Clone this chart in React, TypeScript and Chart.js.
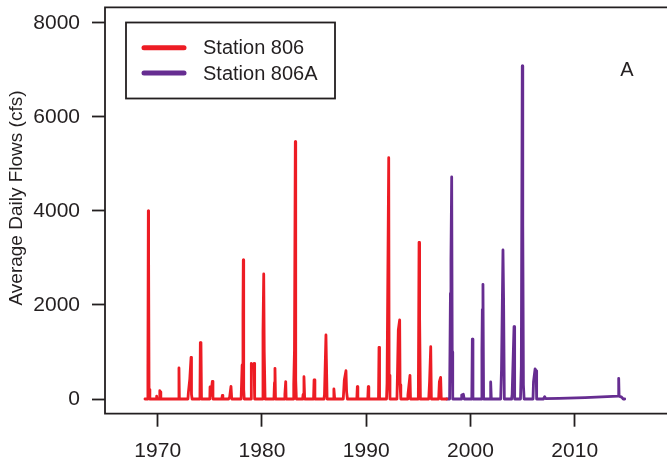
import { useEffect, useRef } from "react";
import { Chart, registerables } from "chart.js";

Chart.register(...registerables);

// ---------- data ----------
const seriesLabels = ["Station 806", "Station 806A"];
const yAxisTitle = "Average Daily Flows (cfs)";
const panelLabel = "A";
const xTickYears = [1970, 1980, 1990, 2000, 2010];
const yTickValues = [0, 2000, 4000, 6000, 8000];

const station806Years = [
  1968.78, 1969.02, 1969.06, 1969.1, 1969.13, 1969.17, 1969.25,
  1969.85, 1969.9, 1969.95,
  1970.15, 1970.2, 1970.25, 1970.3,
  1972.0, 1972.04, 1972.08,
  1972.9, 1972.94, 1973.08, 1973.2, 1973.24, 1973.3,
  1974.05, 1974.09, 1974.15, 1974.2,
  1975.0, 1975.02, 1975.1, 1975.24, 1975.3,
  1976.15, 1976.2, 1976.25,
  1976.8, 1976.9, 1977.03, 1977.1,
  1978.0, 1978.1, 1978.18, 1978.21, 1978.25, 1978.3,
  1978.95, 1978.98, 1979.1, 1979.24, 1979.3,
  1980.05, 1980.1, 1980.17, 1980.22, 1980.3,
  1981.15, 1981.2, 1981.25, 1981.3,
  1982.15, 1982.2, 1982.28, 1982.32,
  1983.0, 1983.05, 1983.12, 1983.2, 1983.24, 1983.3,
  1983.9, 1983.95, 1984.03, 1984.1,
  1984.95, 1985.0, 1985.08,
  1985.95, 1986.0, 1986.14, 1986.18, 1986.25,
  1986.85, 1986.9, 1986.98,
  1987.8, 1987.9, 1988.06, 1988.12, 1988.2,
  1989.1, 1989.15, 1989.2,
  1990.15, 1990.2, 1990.25,
  1991.18, 1991.23, 1991.28,
  1991.95, 1992.0, 1992.16, 1992.2, 1992.28,
  1992.95, 1993.0, 1993.08, 1993.21, 1993.25, 1993.32,
  1993.95, 1994.0, 1994.2, 1994.25,
  1995.0, 1995.07, 1995.12, 1995.2,
  1996.0, 1996.08, 1996.19, 1996.25,
  1996.95, 1997.02, 1997.14, 1997.2,
  1997.72,
];
const station806Flows = [
  0, 0, 550, 4000, 2870, 200, 0,
  0, 60, 0,
  0, 177, 150, 0,
  0, 660, 0,
  0, 130, 430, 886, 100, 0,
  0, 1200, 1190, 0,
  0, 255, 80, 376, 0,
  0, 78, 0,
  0, 40, 269, 0,
  0, 723, 1822, 2955, 200, 0,
  0, 758, 700, 758, 0,
  0, 1431, 2658, 1000, 0,
  0, 347, 652, 0,
  0, 100, 369, 0,
  0, 319, 1042, 5470, 400, 0,
  0, 100, 474, 0,
  0, 404, 0,
  0, 100, 1361, 850, 0,
  0, 213, 0,
  0, 404, 602, 150, 0,
  0, 262, 0,
  0, 262, 0,
  0, 1099, 0,
  0, 340, 5130, 500, 0,
  0, 531, 1467, 1680, 300, 0,
  0, 80, 504, 0,
  0, 3330, 1822, 0,
  0, 369, 1112, 0,
  0, 369, 461, 0,
  0,
];

const station806AYears = [
  1997.72, 1998.0, 1998.08, 1998.13, 1998.2, 1998.25, 1998.3,
  1999.1, 1999.16, 1999.32, 1999.4,
  2000.13, 2000.18, 2000.24,
  2001.05, 2001.1, 2001.14, 2001.2, 2001.26,
  2001.9, 2001.94, 2002.0,
  2002.9, 2002.98, 2003.12, 2003.18, 2003.25,
  2003.95, 2004.0, 2004.18, 2004.24,
  2004.8, 2004.88, 2004.97, 2005.02, 2005.08, 2005.15,
  2006.0, 2006.05, 2006.2, 2006.3, 2006.35,
  2007.0, 2007.12, 2007.2, 2008.5, 2011.0,
  2014.18, 2014.22, 2014.26, 2014.5, 2014.66, 2014.8,
];
const station806AFlows = [
  0, 0, 2247, 2955, 4720, 1000, 0,
  0, 85, 100, 0,
  0, 1270, 0,
  0, 1042, 1900, 2438, 0,
  0, 361, 0,
  0, 638, 3170, 2105, 0,
  0, 100, 1537, 0,
  0, 701, 7080, 3720, 300, 0,
  0, 369, 638, 600, 0,
  0, 50, 10, 15, 30,
  60, 440, 60, 40, 0, 0,
];

// ---------- chart ----------
const FONT = '"Liberation Sans", Arial, Helvetica, sans-serif';
const INK = "#231f20";
const RED = "#ed1c24";
const PURPLE = "#662d91";

const decorPlugin = {
  id: "decor",
  afterDraw(chart: any) {
    const { ctx, chartArea: a } = chart;
    ctx.save();
    // frame (left, top, bottom; right side is beyond the picture)
    ctx.strokeStyle = INK;
    ctx.lineWidth = 1.8;
    ctx.beginPath();
    ctx.moveTo(a.right + 5, a.top);
    ctx.lineTo(a.left, a.top);
    ctx.lineTo(a.left, a.bottom);
    ctx.lineTo(a.right + 5, a.bottom);
    ctx.stroke();

    // legend
    const lx = 126, ly = 22.5, lw = 209, lh = 76;
    ctx.fillStyle = "#fff";
    ctx.fillRect(lx, ly, lw, lh);
    ctx.strokeRect(lx, ly, lw, lh);
    const colors = [RED, PURPLE];
    const rows = [47.7, 73];
    ctx.lineCap = "round";
    ctx.lineWidth = 5;
    ctx.font = `20px ${FONT}`;
    ctx.textBaseline = "middle";
    ctx.textAlign = "left";
    seriesLabels.forEach((lab, i) => {
      ctx.strokeStyle = colors[i];
      ctx.beginPath();
      ctx.moveTo(144, rows[i]);
      ctx.lineTo(184, rows[i]);
      ctx.stroke();
      ctx.fillStyle = INK;
      ctx.fillText(lab, 203, rows[i] + 1);
    });

    // panel label
    ctx.textAlign = "center";
    ctx.fillText(panelLabel, 627, 70);

    // y-axis title
    ctx.translate(17, 198);
    ctx.rotate(-Math.PI / 2);
    ctx.font = `19px ${FONT}`;
    ctx.fillText(yAxisTitle, 0, 0);
    ctx.restore();
  },
};

export default function App() {
  const ref = useRef<HTMLCanvasElement>(null);
  useEffect(() => {
    const canvas = ref.current!;
    const chart = new Chart(canvas, {
      type: "line",
      data: {
        datasets: [
          {
            label: seriesLabels[0],
            data: station806Years.map((x, i) => ({ x, y: station806Flows[i] })),
            borderColor: RED,
            backgroundColor: RED,
            borderWidth: 2.8,
            pointRadius: 0,
            tension: 0,
            borderJoinStyle: "round",
            borderCapStyle: "round",
          },
          {
            label: seriesLabels[1],
            data: station806AYears.map((x, i) => ({ x, y: station806AFlows[i] })),
            borderColor: PURPLE,
            backgroundColor: PURPLE,
            borderWidth: 2.8,
            pointRadius: 0,
            tension: 0,
            borderJoinStyle: "round",
            borderCapStyle: "round",
          },
        ],
      },
      options: {
        responsive: false,
        animation: false,
        layout: { autoPadding: false, padding: { top: 7.3, right: 0, left: 0, bottom: 0 } },
        plugins: { legend: { display: false }, tooltip: { enabled: false } },
        scales: {
          x: {
            type: "linear",
            min: 1964.945,
            max: 2018.854,
            afterFit: (s: any) => {
              s.height = 468 - 413.7;
              s.paddingLeft = 0;
              s.paddingRight = 0;
            },
            afterBuildTicks: (s: any) => {
              s.ticks = xTickYears.map((v) => ({ value: v }));
            },
            border: { display: false },
            grid: {
              display: true,
              drawOnChartArea: false,
              drawTicks: true,
              tickLength: 13,
              tickColor: INK,
              tickWidth: 1.8,
            },
            ticks: {
              color: INK,
              font: { family: FONT, size: 21 },
              padding: 12,
              maxRotation: 0,
              autoSkip: false,
              callback: (v: any) => String(v),
            },
          },
          y: {
            type: "linear",
            min: -312.5,
            max: 8328,
            afterFit: (s: any) => {
              s.width = 105;
              s.paddingTop = 0;
              s.paddingBottom = 0;
            },
            afterBuildTicks: (s: any) => {
              s.ticks = yTickValues.map((v) => ({ value: v }));
            },
            border: { display: false },
            grid: {
              display: true,
              drawOnChartArea: false,
              drawTicks: true,
              tickLength: 13,
              tickColor: INK,
              tickWidth: 1.8,
            },
            ticks: {
              color: INK,
              font: { family: FONT, size: 21 },
              padding: 12,
              autoSkip: false,
              callback: (v: any) => String(v),
            },
          },
        },
      },
      plugins: [decorPlugin],
    } as any);
    return () => chart.destroy();
  }, []);
  return (
    <div style={{ position: "fixed", left: 0, top: 0, width: 667, height: 468, background: "#fff" }}>
      <canvas ref={ref} width={667} height={468} style={{ display: "block" }} />
    </div>
  );
}
